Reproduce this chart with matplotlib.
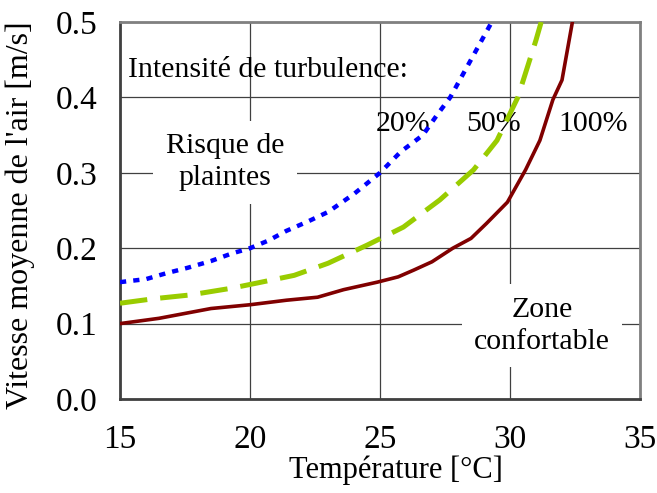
import matplotlib
matplotlib.use("Agg")
import matplotlib.pyplot as plt

# Data
t20 = [15, 16, 16.8, 17.6, 18.5, 19.3, 20, 20.7, 21.4, 22.2, 23, 24, 25, 25.8, 26.65, 27.2, 27.7, 28.5, 29.3]
v20 = [0.155, 0.159, 0.167, 0.174, 0.183, 0.193, 0.2, 0.21, 0.223, 0.235, 0.248, 0.272, 0.3, 0.328, 0.35, 0.377, 0.4, 0.45, 0.5]

t50 = [15, 16.3, 17.7, 19.3, 20.3, 21.7, 23, 24.5, 25.9, 27.3, 28.6, 29.5, 30.3, 31, 31.2]
v50 = [0.127, 0.133, 0.138, 0.147, 0.154, 0.164, 0.18, 0.204, 0.228, 0.264, 0.304, 0.343, 0.4, 0.476, 0.5]

t100 = [15, 16.5, 18.5, 20, 21.4, 22.6, 23.6, 24.9, 25.7, 26.3, 27, 27.8, 28.5, 29.1, 29.9, 30.6, 31.15, 31.65, 32, 32.4]
v100 = [0.1, 0.107, 0.12, 0.125, 0.131, 0.135, 0.145, 0.155, 0.162, 0.171, 0.182, 0.2, 0.213, 0.233, 0.261, 0.304, 0.343, 0.397, 0.423, 0.5]

x_ticks = [15, 20, 25, 30, 35]
y_ticks = [0.0, 0.1, 0.2, 0.3, 0.4, 0.5]

plt.rcParams['font.family'] = ['Liberation Serif', 'DejaVu Serif']
FS_TICK = 24
FS_XLAB = 22
FS_YLAB = 23
FS_TXT = 21.5

fig = plt.figure(figsize=(6.57, 4.93), dpi=100)
ax = fig.add_axes([120/657, 94/493, 520/657, 377/493])
ax.set_xlim(15, 35)
ax.set_ylim(0, 0.5)
ax.set_xticks(x_ticks)
ax.set_yticks(y_ticks)
ax.set_xticklabels([str(v) for v in x_ticks], fontsize=FS_TICK)
ax.set_yticklabels([f"{v:.1f}" for v in y_ticks], fontsize=FS_TICK)
ax.tick_params(axis='y', length=0, pad=16)
ax.tick_params(axis='x', length=0, pad=18)
ax.grid(True, color='#404040', linewidth=0.9, zorder=1)
ax.set_axisbelow(True)
for s in ['left', 'bottom']:
    ax.spines[s].set_color('#404040')
    ax.spines[s].set_linewidth(2)
for s in ['top', 'right']:
    ax.spines[s].set_color('#808080')
    ax.spines[s].set_linewidth(2)

ax.plot(t20, v20, color='#0000FF', linewidth=3.2, dashes=(1.4, 1.6), zorder=4)
ax.plot(t50, v50, color='#99CC00', linewidth=3.6, dashes=(5.5, 2.6), zorder=4)
ax.plot(t100, v100, color='#800000', linewidth=2.6, zorder=4)

ax.set_xlabel("Température [°C]", fontsize=FS_XLAB)
ax.xaxis.set_label_coords(0.53, -0.15)
ax.set_ylabel("Vitesse moyenne de l'air [m/s]", fontsize=FS_YLAB)
ax.yaxis.set_label_coords(-0.163, 0.488)

ax.text(15.3, 0.436, "Intensité de turbulence:", fontsize=FS_TXT, va='center', ha='left', zorder=3)
ax.text(24.85, 0.365, "20%", fontsize=FS_TXT, va='center', ha='left', zorder=3)
ax.text(28.3, 0.365, "50%", fontsize=FS_TXT, va='center', ha='left', zorder=3)
ax.text(31.85, 0.365, "100%", fontsize=FS_TXT, va='center', ha='left', zorder=3)
ax.text(19.04, 0.314, "Risque de\nplaintes", fontsize=FS_TXT, va='center', ha='center',
        linespacing=1.3, zorder=3,
        bbox=dict(facecolor='white', edgecolor='none', pad=9))
ax.text(31.23, 0.097, "Zone\nconfortable", fontsize=FS_TXT, va='center', ha='center',
        linespacing=1.3, zorder=3,
        bbox=dict(facecolor='white', edgecolor='none', pad=9))

fig.savefig("out.png", dpi=100)
